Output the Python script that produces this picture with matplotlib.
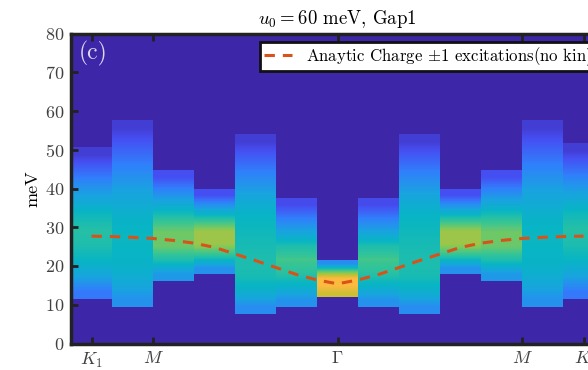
import numpy as np
import matplotlib
matplotlib.use("Agg")
import matplotlib.pyplot as plt
from matplotlib.colors import LinearSegmentedColormap

plt.rcParams['font.family'] = 'serif'
plt.rcParams['font.serif'] = ['cmr10']
plt.rcParams['mathtext.fontset'] = 'cm'
plt.rcParams['axes.unicode_minus'] = False
plt.rcParams['axes.formatter.use_mathtext'] = True

# k-path column index (K1 ... Gamma ... K)
k_cols = [0, 1, 2, 3, 4, 5, 6, 7, 8, 9, 10, 11, 12]
# lower / upper edge of the spectral weight in each column (meV)
col_lo = [11.6, 9.4, 16.2, 18.0, 7.5, 9.4, 11.9, 9.4, 7.5, 18.0, 16.2, 9.4, 11.4]
col_hi = [50.7, 57.5, 44.6, 39.9, 53.7, 37.3, 21.4, 37.3, 53.7, 39.9, 44.6, 57.5, 51.5]
# intensity from bottom to top of each column (normalised)
col_vals = [
    [0.19, 0.31, 0.40, 0.45, 0.47, 0.42, 0.33, 0.24, 0.15, 0.06],
    [0.25, 0.33, 0.38, 0.40, 0.41, 0.39, 0.35, 0.30, 0.24, 0.18, 0.12, 0.06],
    [0.27, 0.45, 0.57, 0.58, 0.48, 0.34, 0.22, 0.10],
    [0.25, 0.48, 0.64, 0.64, 0.48, 0.28, 0.10],
    [0.24, 0.37, 0.44, 0.45, 0.44, 0.42, 0.40, 0.34, 0.27, 0.20, 0.13, 0.06],
    [0.25, 0.38, 0.48, 0.52, 0.45, 0.31, 0.20, 0.09],
    [0.70, 0.80, 0.80, 0.55, 0.24],
    [0.25, 0.38, 0.48, 0.52, 0.45, 0.31, 0.20, 0.09],
    [0.24, 0.37, 0.44, 0.45, 0.44, 0.42, 0.40, 0.34, 0.27, 0.20, 0.13, 0.06],
    [0.25, 0.48, 0.64, 0.64, 0.48, 0.28, 0.10],
    [0.27, 0.45, 0.57, 0.58, 0.48, 0.34, 0.22, 0.10],
    [0.25, 0.33, 0.38, 0.40, 0.41, 0.39, 0.35, 0.30, 0.24, 0.18, 0.12, 0.06],
    [0.19, 0.31, 0.40, 0.45, 0.47, 0.42, 0.33, 0.24, 0.15, 0.06],
]

# analytic charge +-1 excitation curve
line_k = [0, 0.5, 1, 1.5, 2, 2.5, 3, 3.5, 4, 4.5, 5, 5.5, 6,
          6.5, 7, 7.5, 8, 8.5, 9, 9.5, 10, 10.5, 11, 11.5, 12]
line_E = [27.7, 27.6, 27.4, 27.1, 26.6, 25.9, 24.8, 23.1, 21.4, 19.6, 17.8, 16.4, 15.4,
          16.4, 17.8, 19.6, 21.4, 23.1, 24.8, 25.9, 26.6, 27.1, 27.4, 27.6, 27.7]

tick_pos = [0, 1.5, 6, 10.5, 12]
tick_lab = [r'$K_1$', r'$M$', r'$\Gamma$', r'$M$', r'$K$']

# parula-like colormap
parula = LinearSegmentedColormap.from_list('parula', [
    (0.00, (0.243, 0.150, 0.660)),
    (0.10, (0.275, 0.310, 0.950)),
    (0.20, (0.190, 0.500, 0.985)),
    (0.30, (0.100, 0.640, 0.880)),
    (0.40, (0.030, 0.710, 0.770)),
    (0.50, (0.200, 0.770, 0.600)),
    (0.60, (0.500, 0.790, 0.350)),
    (0.70, (0.800, 0.750, 0.200)),
    (0.80, (0.990, 0.730, 0.250)),
    (0.90, (0.960, 0.870, 0.170)),
    (1.00, (0.977, 0.984, 0.081)),
])

fig = plt.figure(figsize=(5.88, 3.70), dpi=100)
ax = fig.add_axes([71 / 588, 26.5 / 370, 533 / 588, 310 / 370])
ax.set_facecolor(parula(0.0))

for k, lo, hi, vals in zip(k_cols, col_lo, col_hi, col_vals):
    ax.imshow(np.array(vals)[:, None], extent=[k - 0.5, k + 0.5, lo, hi],
              origin='lower', aspect='auto', cmap=parula, vmin=0, vmax=1,
              interpolation='bilinear')

ax.plot(line_k, line_E, '--', color='#D95319', lw=2.2, dashes=(3.4, 2.6),
        label=r'Anaytic Charge $\pm1$ excitations(no kin)')

ax.set_xlim(-0.5, 12.5)
ax.set_ylim(0, 80)
ax.set_xticks(tick_pos)
ax.set_xticklabels(tick_lab)
ax.set_yticks(range(0, 81, 10))
ax.tick_params(direction='in', length=5, width=2, top=True, labelsize=13,
               labelcolor='#404040', color='#222222', pad=5)
for sp in ax.spines.values():
    sp.set_linewidth(2.5)
    sp.set_color('#222222')

ax.set_ylabel('meV', fontsize=13, labelpad=3)
ax.set_title(r'$u_0 = 60$ meV, Gap1', fontsize=13.5, pad=7)

ax.text(0.015, 0.975, '(c)', transform=ax.transAxes, color=(0.85, 0.85, 0.93),
        fontsize=17, va='top', ha='left')

leg = ax.legend(loc='upper right', fontsize=12.1, fancybox=False, framealpha=1,
                edgecolor='#111111', borderpad=0.2, handlelength=1.7,
                handletextpad=0.8, borderaxespad=0.5)
leg.get_frame().set_linewidth(2.0)

fig.savefig('out.png', dpi=100)
